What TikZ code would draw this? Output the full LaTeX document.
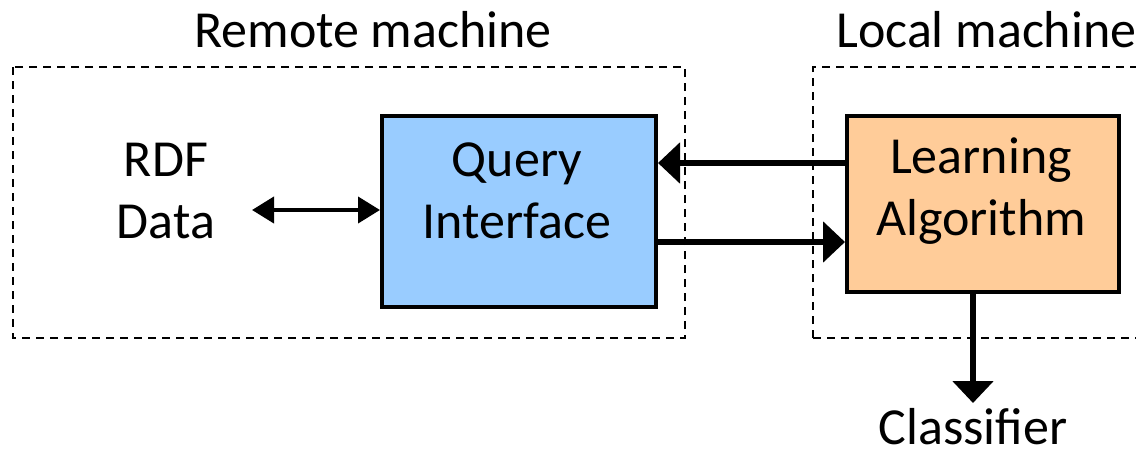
\documentclass[tikz,border=0pt]{standalone}
\usepackage{fontspec}
\setmainfont{Carlito}
\usetikzlibrary{arrows.meta}
\definecolor{qblue}{HTML}{99CCFF}
\definecolor{lorange}{HTML}{FFCC99}
\begin{document}
\begin{tikzpicture}[x=1pt,y=-1pt,
  machine/.style={draw,dashed,line width=2pt,dash pattern=on 8pt off 6pt},
  block/.style={draw,line width=4pt,inner sep=0pt,anchor=north west},
  lbl/.style={font=\fontsize{52}{62}\selectfont,align=center,inner sep=0pt},
  flow/.style={line width=6pt,-{Triangle[length=22pt,width=40pt]}},
  both/.style={line width=4pt,{Triangle[length=22pt,width=26pt]}-{Triangle[length=22pt,width=26pt]}}]
\useasboundingbox (0,0) rectangle (1136,450);
% machine frames
\draw[machine] (13,67) rectangle (685,338);
\draw[machine] (813,338) -- (813,67) -- (1160,67);
\draw[machine] (813,338) -- (1160,338);
\node[lbl,anchor=base] (remote) at (373,47) {Remote machine};
\node[lbl,anchor=base west] (local) at (836,47) {Local machine};
% blocks
\node[block,fill=qblue,minimum width=274pt,minimum height=191pt] (qi) at (380,114) {};
\node[block,fill=lorange,minimum width=272pt,minimum height=176pt] (la) at (845,114) {};
\node[lbl] (qit) at (517,191) {Query\\Interface};
\node[lbl] (lat) at (981,191) {Learning\\Algorithm};
\node[lbl] (rdf) at (166,191) {RDF\\Data};
\node[lbl,anchor=base] (cls) at (973,444) {Classifier};
% connectors
\coordinate (rdfe) at (252,210);
\draw[both] (rdfe) -- (qi.west |- rdfe);
\draw[flow] (la.west |- 0,163) -- (qi.east |- 0,163);
\draw[flow] (qi.east |- 0,242) -- (la.west |- 0,242);
\coordinate (clsin) at (973,403);
\draw[flow] (la.south -| clsin) -- (clsin);
\end{tikzpicture}
\end{document}
